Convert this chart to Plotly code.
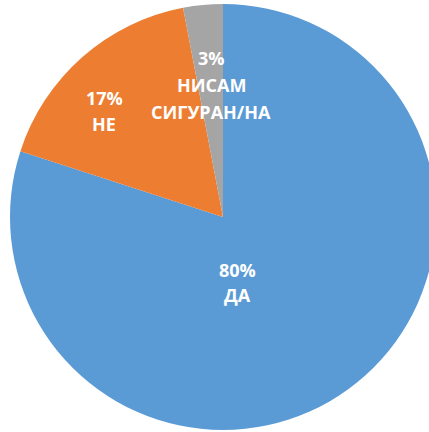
import plotly.graph_objects as go

# Survey answers and their shares (percent)
labels = ["ДА", "НЕ", "НИСАМ СИГУРАН/НА"]
values = [80, 17, 3]
colors = ["#5B9BD5", "#ED7D31", "#A5A5A5"]

# Label lines drawn over each slice (answer text split onto lines)
label_lines = [["ДА"], ["НЕ"], ["НИСАМ", "СИГУРАН/НА"]]

W, H = 446, 432

fig = go.Figure(
    go.Pie(
        labels=labels,
        values=values,
        sort=False,
        direction="clockwise",
        rotation=0,
        marker=dict(colors=colors, line=dict(width=0)),
        textinfo="none",
        hoverinfo="label+percent",
        domain=dict(x=[0, 1], y=[2 / H, 428 / H]),
        showlegend=False,
    )
)

# pixel anchors (centre of first line, line gap) for each slice's label block
anchors = [(237, 270, 25), (104, 98, 26), (211, 58, 27)]

font = dict(family="Open Sans", size=18, color="white", weight="bold")
for i, (cx, cy, gap) in enumerate(anchors):
    lines = [f"{values[i]}%"] + label_lines[i]
    for j, line in enumerate(lines):
        fig.add_annotation(
            x=cx / W,
            y=1 - (cy + j * gap) / H,
            xref="paper",
            yref="paper",
            text=line,
            showarrow=False,
            font=font,
            xanchor="center",
            yanchor="middle",
        )

fig.update_layout(
    width=W,
    height=H,
    margin=dict(l=0, r=0, t=0, b=0),
    paper_bgcolor="white",
    plot_bgcolor="white",
)

fig.write_html(
    "out.html",
    post_script=(
        "document.body.style.margin='0';"
        "document.body.style.overflow='hidden';"
        "document.documentElement.style.overflow='hidden';"
    ),
)
